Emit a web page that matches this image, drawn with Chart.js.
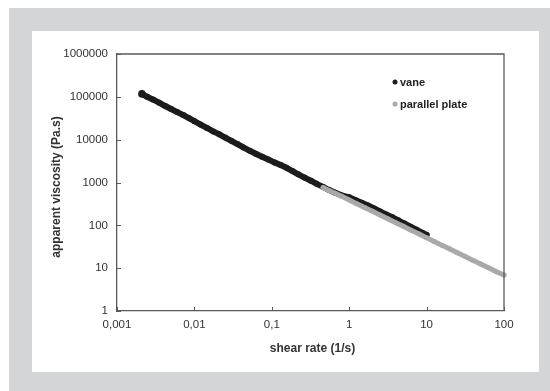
<!DOCTYPE html>
<html><head><meta charset="utf-8">
<script src="https://cdn.jsdelivr.net/npm/chart.js@4"></script>
<style>html,body{margin:0;padding:0;background:#fff}#c{display:block}</style>
</head><body>
<canvas id="c" width="550" height="391"></canvas>
<script>
// ---- data ----
const seriesNames = ['vane', 'parallel plate'];
const vaneX = [0.0021,0.00245,0.0029,0.0035,0.0042,0.005,0.006,0.0072,0.0086,0.01,0.012,0.0145,0.0175,0.021,0.025,0.03,0.036,0.043,0.052,0.062,0.075,0.09,0.108,0.13,0.155,0.185,0.22,0.265,0.32,0.38,0.46,0.55,0.66,0.8,1.0,1.2,1.45,1.75,2.1,2.5,3.0,3.6,4.3,5.2,6.2,7.4,8.8,10];
const vaneY = [117000,100000,87000,73000,61000,52000,44000,37500,31500,27000,22500,18800,15600,13300,11200,9400,7900,6600,5500,4700,4000,3450,2950,2550,2200,1850,1550,1300,1100,930,790,665,575,500,450,390,338,290,247,211,180,154,131,110,93,79,67,60];
const plateX = [0.46,0.55,0.66,0.8,1.0,1.25,1.6,2.0,2.5,3.2,4.0,5.0,6.3,8.0,10,12.5,16,20,25,32,40,50,63,80,100];
const plateY = [760,650,560,475,390,320,258,212,174,140,115,95,77,63,51,42,34,28,23,18.5,15.2,12.5,10.2,8.3,6.9];
const xTickValues = [0.001,0.01,0.1,1,10,100];
const xTickLabels = ['0,001','0,01','0,1','1','10','100'];
const yTickValues = [1,10,100,1000,10000,100000,1000000];
const yTickLabels = ['1','10','100','1000','10000','100000','1000000'];
const xTitle = 'shear rate (1/s)';
const yTitle = 'apparent viscosity (Pa.s)';

const AXIS = '#5a5a5a';
const TXT = '#333333';
const FONT = '"Liberation Sans", Arial, sans-serif';
const vaneColor = '#1c1c1c';
const plateColor = '#a9a9a9';

const decor = {
  id: 'decor',
  beforeDraw(chart) {
    const c = chart.ctx;
    c.save();
    c.fillStyle = '#ffffff'; c.fillRect(0, 0, 550, 391);
    c.fillStyle = '#d4d5d7'; c.fillRect(9, 8, 541, 383);
    c.fillStyle = '#ffffff'; c.fillRect(32, 31, 507, 341);
    c.restore();
  },
  afterDraw(chart) {
    const c = chart.ctx, a = chart.chartArea;
    const xs = chart.scales.x, ys = chart.scales.y;
    c.save();
    c.strokeStyle = AXIS; c.lineWidth = 1.3;
    c.beginPath();
    c.moveTo(a.left, a.top); c.lineTo(a.right, a.top); c.lineTo(a.right, a.bottom);
    c.stroke();
    c.lineWidth = 1;
    c.beginPath();
    xTickValues.forEach(v => { const p = Math.round(xs.getPixelForValue(v)) + 0.5; c.moveTo(p, a.bottom); c.lineTo(p, a.bottom - 4); });
    yTickValues.forEach(v => { const p = Math.round(ys.getPixelForValue(v)) + 0.5; c.moveTo(a.left, p); c.lineTo(a.left + 4, p); });
    c.stroke();
    // axis titles
    c.fillStyle = TXT;
    c.font = 'bold 12px ' + FONT;
    c.textAlign = 'center'; c.textBaseline = 'middle';
    c.fillText(xTitle, (a.left + a.right) / 2 + 2, 349);
    c.save();
    c.translate(57, 187); c.rotate(-Math.PI / 2);
    c.fillText(yTitle, 0, 0);
    c.restore();
    // legend
    const colors = [vaneColor, plateColor];
    const ly = [82, 104];
    c.font = 'bold 11px ' + FONT;
    c.textAlign = 'left';
    seriesNames.forEach((n, i) => {
      c.fillStyle = colors[i];
      c.beginPath(); c.arc(395, ly[i], 2.5, 0, Math.PI * 2); c.fill();
      c.fillStyle = '#222';
      c.fillText(n, 400, ly[i] + 0.5);
    });
    c.restore();
  }
};

new Chart(document.getElementById('c'), {
  type: 'scatter',
  data: {
    datasets: [
      {
        label: seriesNames[0],
        data: vaneX.map((x, i) => ({ x: x, y: vaneY[i] })),
        showLine: true, borderColor: vaneColor, backgroundColor: vaneColor,
        borderWidth: 6, borderJoinStyle: 'round', borderCapStyle: 'round',
        pointRadius: ctx => ctx.dataIndex === 0 ? 3.8 : 3, pointBorderWidth: 0,
        order: 1, clip: false
      },
      {
        label: seriesNames[1],
        data: plateX.map((x, i) => ({ x: x, y: plateY[i] })),
        showLine: true, borderColor: plateColor, backgroundColor: plateColor,
        borderWidth: 5, borderJoinStyle: 'round', borderCapStyle: 'round',
        pointRadius: 2.5, pointBorderWidth: 0,
        order: 0, clip: false
      }
    ]
  },
  options: {
    responsive: false, animation: false, devicePixelRatio: 1,
    layout: { padding: { left: 0, top: 54, right: 46, bottom: 0 } },
    plugins: { legend: { display: false }, tooltip: { enabled: false } },
    scales: {
      x: {
        type: 'logarithmic', min: 0.001, max: 100,
        grid: { display: false, drawTicks: false },
        border: { display: true, color: AXIS, width: 1.3 },
        afterBuildTicks: s => { s.ticks = xTickValues.map(v => ({ value: v })); },
        afterFit: s => { s.height = 80; },
        ticks: {
          autoSkip: false, maxRotation: 0, padding: 7, color: TXT,
          font: { family: FONT, size: 11.5 },
          callback: v => { const i = xTickValues.indexOf(v); return i >= 0 ? xTickLabels[i] : ''; }
        }
      },
      y: {
        type: 'logarithmic', min: 1, max: 1000000,
        grid: { display: false, drawTicks: false },
        border: { display: true, color: AXIS, width: 1.3 },
        afterBuildTicks: s => { s.ticks = yTickValues.map(v => ({ value: v })); },
        afterFit: s => { s.width = 117; },
        ticks: {
          autoSkip: false, padding: 9, color: TXT,
          font: { family: FONT, size: 11.5 },
          callback: v => { const i = yTickValues.indexOf(v); return i >= 0 ? yTickLabels[i] : ''; }
        }
      }
    }
  },
  plugins: [decor]
});
</script>
</body></html>
